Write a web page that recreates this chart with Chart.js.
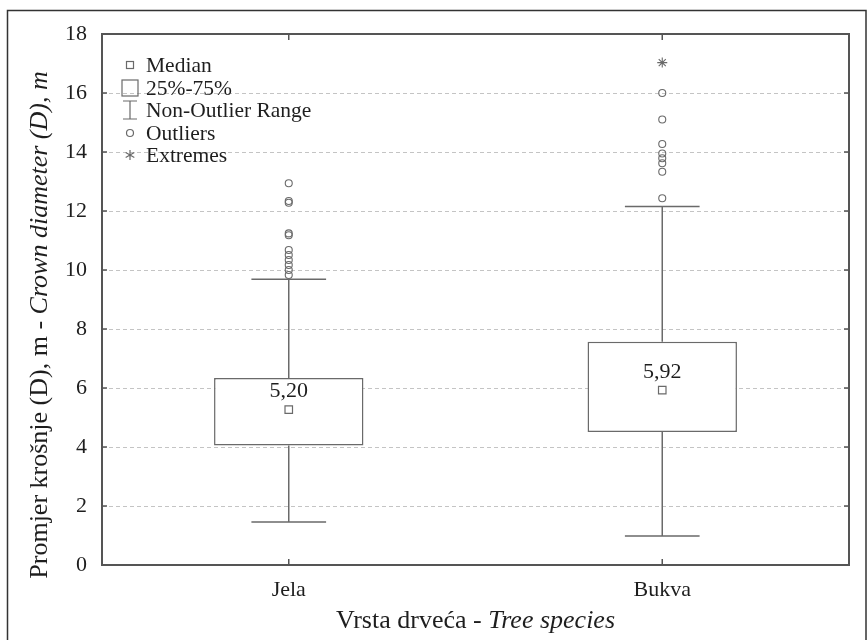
<!DOCTYPE html>
<html>
<head>
<meta charset="utf-8">
<script src="https://cdn.jsdelivr.net/npm/chart.js@4.4.1/dist/chart.umd.min.js"></script>
<style>
  body { margin: 0; background: #fff; }
  #wrap { width: 867px; height: 640px; }
</style>
</head>
<body>
<div id="wrap"><canvas id="chart" width="867" height="640"></canvas></div>
<script>
// Data
const categories = ['Jela', 'Bukva'];
const q1 = [4.05, 4.51];
const q3 = [6.34, 7.57];
const medians = [5.27, 5.93];
const medianLabels = ['5,20', '5,92'];
const whiskerLow = [1.46, 0.98];
const whiskerHigh = [9.69, 12.15];
const jelaOutliers = [12.94, 12.34, 12.28, 11.24, 11.18, 10.68, 10.51, 10.34, 10.17, 10.0, 9.83];
const bukvaOutliers = [16.0, 15.1, 14.27, 13.95, 13.79, 13.62, 13.33, 12.43];
const bukvaExtremes = [17.03];
const yTicks = [0, 2, 4, 6, 8, 10, 12, 14, 16, 18];

const FONT = "'Liberation Serif', 'DejaVu Serif', serif";
const LINE = '#6a6a6a';

const outlierPoints = [
    ...jelaOutliers.map(v => ({ x: 'Jela', y: v })),
    ...bukvaOutliers.map(v => ({ x: 'Bukva', y: v }))
];

// whiskers, frame, inward ticks, legend, titles
const boxExtras = {
    id: 'boxExtras',
    beforeDraw(chart) {
        const c = chart.ctx;
        c.save();
        c.strokeStyle = '#333';
        c.lineWidth = 1.5;
        c.strokeRect(7.5, 10.5, 858.5, 700);
        c.restore();
    },
    beforeDatasetsDraw(chart) {
        const c = chart.ctx;
        const x = chart.scales.x, y = chart.scales.y;
        const boxW = chart.getDatasetMeta(0).data[0].width;
        c.save();
        c.strokeStyle = LINE;
        c.lineWidth = 1.5;
        categories.forEach((cat, i) => {
            const px = x.getPixelForValue(i);
            const capW = boxW / 2;
            const hy = y.getPixelForValue(whiskerHigh[i]);
            const ly = y.getPixelForValue(whiskerLow[i]);
            c.beginPath();
            c.moveTo(px, y.getPixelForValue(q3[i]));
            c.lineTo(px, hy);
            c.moveTo(px, y.getPixelForValue(q1[i]));
            c.lineTo(px, ly);
            c.moveTo(px - capW / 2, hy); c.lineTo(px + capW / 2, hy);
            c.moveTo(px - capW / 2, ly); c.lineTo(px + capW / 2, ly);
            c.stroke();
        });
        c.restore();
    },
    afterDatasetsDraw(chart) {
        const c = chart.ctx;
        const a = chart.chartArea;
        const x = chart.scales.x, y = chart.scales.y;
        c.save();
        // median labels
        c.fillStyle = '#1e1e1e';
        c.font = '22px ' + FONT;
        c.textAlign = 'center';
        c.textBaseline = 'middle';
        categories.forEach((cat, i) => {
            c.fillText(medianLabels[i], x.getPixelForValue(i), y.getPixelForValue(medians[i]) - 18);
        });
        // plot frame
        c.strokeStyle = '#555';
        c.lineWidth = 2;
        c.strokeRect(a.left, a.top, a.right - a.left, a.bottom - a.top);
        // inward ticks
        c.lineWidth = 1.5;
        c.beginPath();
        yTicks.forEach(v => {
            const py = y.getPixelForValue(v);
            c.moveTo(a.left, py); c.lineTo(a.left + 5, py);
            c.moveTo(a.right, py); c.lineTo(a.right - 5, py);
        });
        categories.forEach((cat, i) => {
            const px = x.getPixelForValue(i);
            c.moveTo(px, a.bottom); c.lineTo(px, a.bottom - 6);
            c.moveTo(px, a.top); c.lineTo(px, a.top + 6);
        });
        c.stroke();

        // legend
        const lx = 130, tx = 146;
        const rows = [65, 88, 110, 133, 155];
        c.strokeStyle = LINE;
        c.lineWidth = 1.2;
        c.strokeRect(lx - 3.5, rows[0] - 3.5, 7, 7);
        c.strokeRect(lx - 8, rows[1] - 8, 16, 16);
        c.beginPath();
        c.moveTo(lx, rows[2] - 9); c.lineTo(lx, rows[2] + 9);
        c.moveTo(lx - 7, rows[2] - 9); c.lineTo(lx + 7, rows[2] - 9);
        c.moveTo(lx - 7, rows[2] + 9); c.lineTo(lx + 7, rows[2] + 9);
        c.stroke();
        c.beginPath();
        c.arc(lx, rows[3], 3.5, 0, Math.PI * 2);
        c.stroke();
        c.beginPath();
        for (let k = 0; k < 3; k++) {
            const ang = Math.PI / 2 + k * Math.PI / 3;
            c.moveTo(lx + 5 * Math.cos(ang), rows[4] + 5 * Math.sin(ang));
            c.lineTo(lx - 5 * Math.cos(ang), rows[4] - 5 * Math.sin(ang));
        }
        c.stroke();
        c.fillStyle = '#1e1e1e';
        c.textAlign = 'left';
        c.font = '21.5px ' + FONT;
        ['Median', '25%-75%', 'Non-Outlier Range', 'Outliers', 'Extremes'].forEach((t, i) => {
            c.fillText(t, tx, rows[i] + 1);
        });

        // axis titles (mixed upright / italic)
        const TS = '26px ';
        const xa = ['Vrsta drveća - ', 'Tree species'];
        c.font = TS + FONT;
        const w1 = c.measureText(xa[0]).width;
        c.font = 'italic ' + TS + FONT;
        const w2 = c.measureText(xa[1]).width;
        const sx = (a.left + a.right) / 2 - (w1 + w2) / 2;
        c.font = TS + FONT;
        c.fillText(xa[0], sx, 621);
        c.font = 'italic ' + TS + FONT;
        c.fillText(xa[1], sx + w1, 621);

        const ya = ['Promjer krošnje (D), m - ', 'Crown diameter (D), m'];
        c.font = TS + FONT;
        const v1 = c.measureText(ya[0]).width;
        c.font = 'italic ' + TS + FONT;
        const v2 = c.measureText(ya[1]).width;
        c.translate(40, 325);
        c.rotate(-Math.PI / 2);
        const sy = -(v1 + v2) / 2;
        c.font = TS + FONT;
        c.fillText(ya[0], sy, 0);
        c.font = 'italic ' + TS + FONT;
        c.fillText(ya[1], sy + v1, 0);
        c.restore();
    }
};

new Chart(document.getElementById('chart'), {
    type: 'bar',
    data: {
        labels: categories,
        datasets: [
            {
                label: '25%-75%',
                data: categories.map((c, i) => [q1[i], q3[i]]),
                backgroundColor: '#fff',
                borderColor: LINE,
                borderWidth: 1.5,
                borderSkipped: false,
                barPercentage: 0.4,
                categoryPercentage: 1.0,
                order: 10
            },
            {
                type: 'line',
                label: 'Median',
                data: categories.map((c, i) => ({ x: c, y: medians[i] })),
                showLine: false,
                pointStyle: 'rect',
                pointRadius: 5.3,
                borderColor: LINE,
                borderWidth: 1.2,
                backgroundColor: '#fff',
                order: 1
            },
            {
                type: 'line',
                label: 'Outliers',
                data: outlierPoints,
                showLine: false,
                pointStyle: 'circle',
                pointRadius: 3.5,
                borderColor: LINE,
                borderWidth: 1.1,
                backgroundColor: 'rgba(0,0,0,0)',
                order: 1
            },
            {
                type: 'line',
                label: 'Extremes',
                data: bukvaExtremes.map(v => ({ x: 'Bukva', y: v })),
                showLine: false,
                pointStyle: 'star',
                pointRadius: 5,
                borderColor: LINE,
                borderWidth: 1.1,
                order: 1
            }
        ]
    },
    options: {
        responsive: false,
        animation: false,
        layout: { padding: { top: 34, right: 18, left: 0, bottom: 0 } },
        plugins: { legend: { display: false }, tooltip: { enabled: false } },
        scales: {
            x: {
                grid: { display: false, drawTicks: false },
                border: { display: false },
                ticks: { color: '#1e1e1e', font: { family: FONT, size: 22 }, padding: 12 },
                afterFit(scale) { scale.height = 75; }
            },
            y: {
                min: 0,
                max: 18,
                ticks: { stepSize: 2, color: '#1e1e1e', font: { family: FONT, size: 22 }, padding: 15 },
                grid: {
                    drawTicks: false,
                    color: ctx => (ctx.tick && (ctx.tick.value === 0 || ctx.tick.value === 18)) ? 'rgba(0,0,0,0)' : '#c4c4c4',
                    lineWidth: 1
                },
                border: { display: false, dash: [4, 3] },
                afterFit(scale) { scale.width = 102; }
            }
        }
    },
    plugins: [boxExtras]
});
</script>
</body>
</html>
